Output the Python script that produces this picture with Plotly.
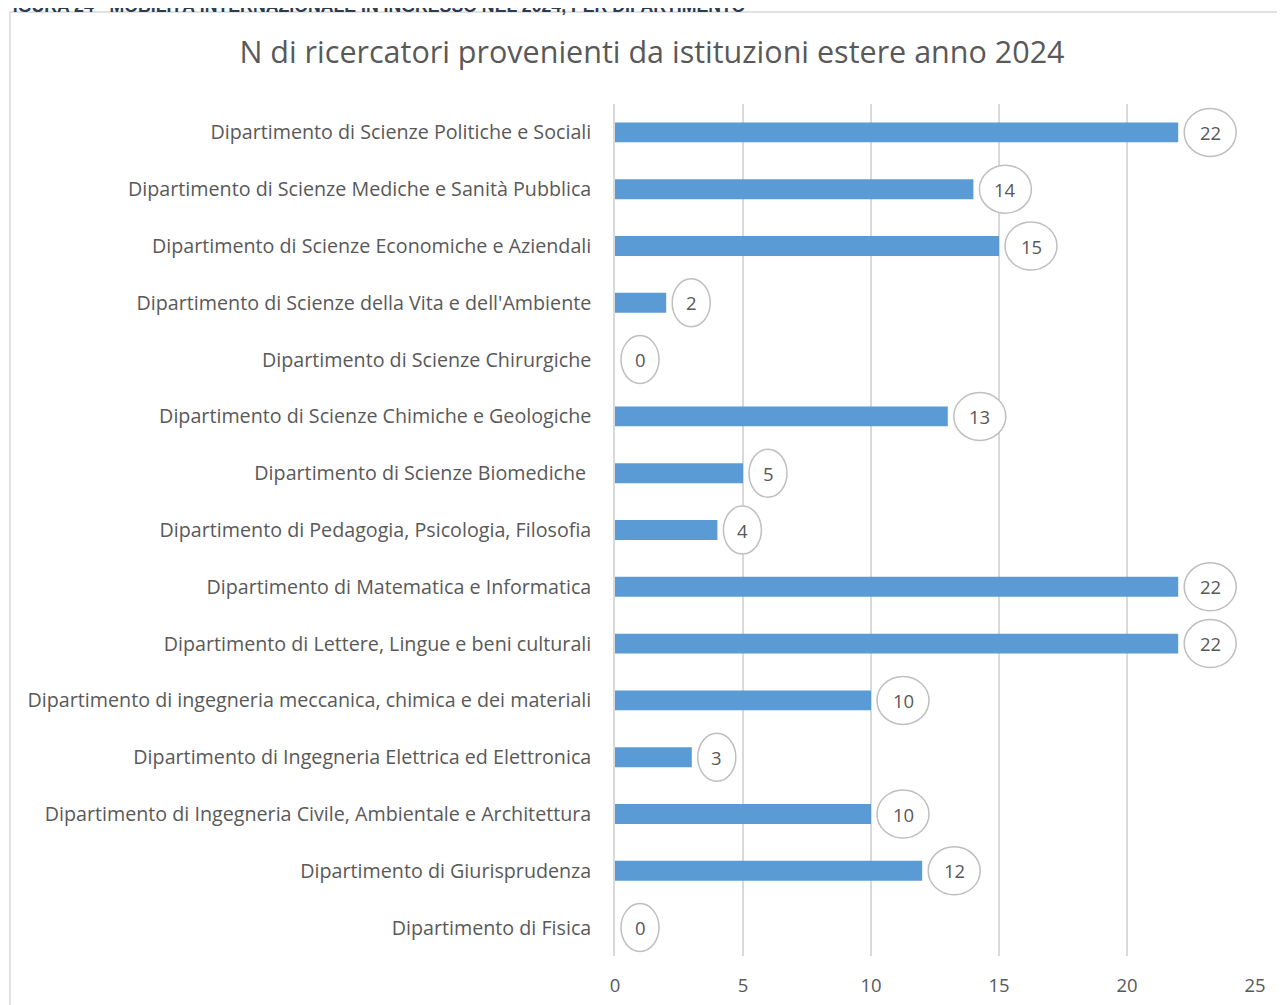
import plotly.graph_objects as go

departments = [
    "Dipartimento di Scienze Politiche e Sociali",
    "Dipartimento di Scienze Mediche e Sanità Pubblica",
    "Dipartimento di Scienze Economiche e Aziendali",
    "Dipartimento di Scienze della Vita e dell'Ambiente",
    "Dipartimento di Scienze Chirurgiche",
    "Dipartimento di Scienze Chimiche e Geologiche",
    "Dipartimento di Scienze Biomediche\u00a0",
    "Dipartimento di Pedagogia, Psicologia, Filosofia",
    "Dipartimento di Matematica e Informatica",
    "Dipartimento di Lettere, Lingue e beni culturali",
    "Dipartimento di ingegneria meccanica, chimica e dei materiali",
    "Dipartimento di Ingegneria Elettrica ed Elettronica",
    "Dipartimento di Ingegneria Civile, Ambientale e Architettura",
    "Dipartimento di Giurisprudenza",
    "Dipartimento di Fisica",
]
researchers = [22, 14, 15, 2, 0, 13, 5, 4, 22, 22, 10, 3, 10, 12, 0]
x_ticks = [0, 5, 10, 15, 20, 25]

title_text = "N di ricercatori provenienti da istituzioni estere anno 2024"
caption_text = "FIGURA 24 - MOBILITÀ INTERNAZIONALE IN INGRESSO NEL 2024, PER DIPARTIMENTO"

FONT = "Open Sans"
GRAY = "#595959"
BAR = "#5B9BD5"

W, H = 1277, 997
L, R, T, B = 607, 30, 96, 49
PW, PH = W - L - R, H - T - B

positions = list(range(len(departments)))

fig = go.Figure()
fig.add_trace(go.Bar(
    x=researchers, y=positions, orientation="h",
    marker=dict(color=BAR, line=dict(width=0)),
    width=0.35, hoverinfo="x+y",
))

shapes = []
annotations = []
for pos, val in zip(positions, researchers):
    w = 52 if val >= 10 else 38
    shapes.append(dict(
        type="circle", xref="x", yref="y",
        xsizemode="pixel", xanchor=val, x0=6, x1=6 + w,
        ysizemode="pixel", yanchor=pos, y0=-24, y1=24,
        line=dict(color="#BFBFBF", width=1.5), fillcolor="white", layer="above",
    ))
    annotations.append(dict(
        x=val, y=pos, xref="x", yref="y", text=str(val), showarrow=False,
        xshift=6 + w / 2, font=dict(family=FONT, size=18.5, color=GRAY),
    ))

# chart frame (figure-pixel coords converted to paper fractions)
fx0, fx1, fy0, fy1 = 2, 1290, 4, 1010
shapes.append(dict(
    type="rect", xref="paper", yref="paper",
    x0=(fx0 - L) / PW, x1=(fx1 - L) / PW,
    y0=(T + PH - fy1) / PH, y1=(T + PH - fy0) / PH,
    line=dict(color="#D9D9D9", width=1.5), fillcolor="rgba(0,0,0,0)", layer="below",
))

annotations.append(dict(
    x=0, xref="paper", xshift=-L - 8, xanchor="left",
    y=1, yref="paper", yshift=T + 3, yanchor="middle",
    text="<b>" + caption_text + "</b>", showarrow=False,
    font=dict(family="Liberation Sans Narrow, Liberation Sans", size=17.7, color="#2E3B4E"),
))

fig.update_layout(
    width=W, height=H,
    margin=dict(l=L, r=R, t=T, b=B, autoexpand=False),
    paper_bgcolor="white", plot_bgcolor="white",
    showlegend=False,
    title=dict(text=title_text, x=644 / W, xanchor="center", xref="container",
               y=1 - 44 / H, yanchor="middle", yref="container",
               font=dict(family=FONT, size=30.5, color=GRAY)),
    shapes=shapes,
    annotations=annotations,
)
fig.update_xaxes(
    range=[0, 25], tickvals=x_ticks, showgrid=True, gridcolor="#D9D9D9", gridwidth=1.5,
    zeroline=False, showline=False, ticks="", ticklabelstandoff=16, automargin=False,
    tickfont=dict(family=FONT, size=18.5, color=GRAY), fixedrange=True,
)
fig.update_yaxes(
    range=[len(departments) - 0.5, -0.5], tickvals=positions, ticktext=departments,
    showgrid=False, zeroline=False, showline=True, linecolor="#D9D9D9", linewidth=1.5,
    ticks="", ticklabelstandoff=18, automargin=False,
    tickfont=dict(family=FONT, size=19.7, color=GRAY), fixedrange=True,
)

fig.write_html("out.html")
